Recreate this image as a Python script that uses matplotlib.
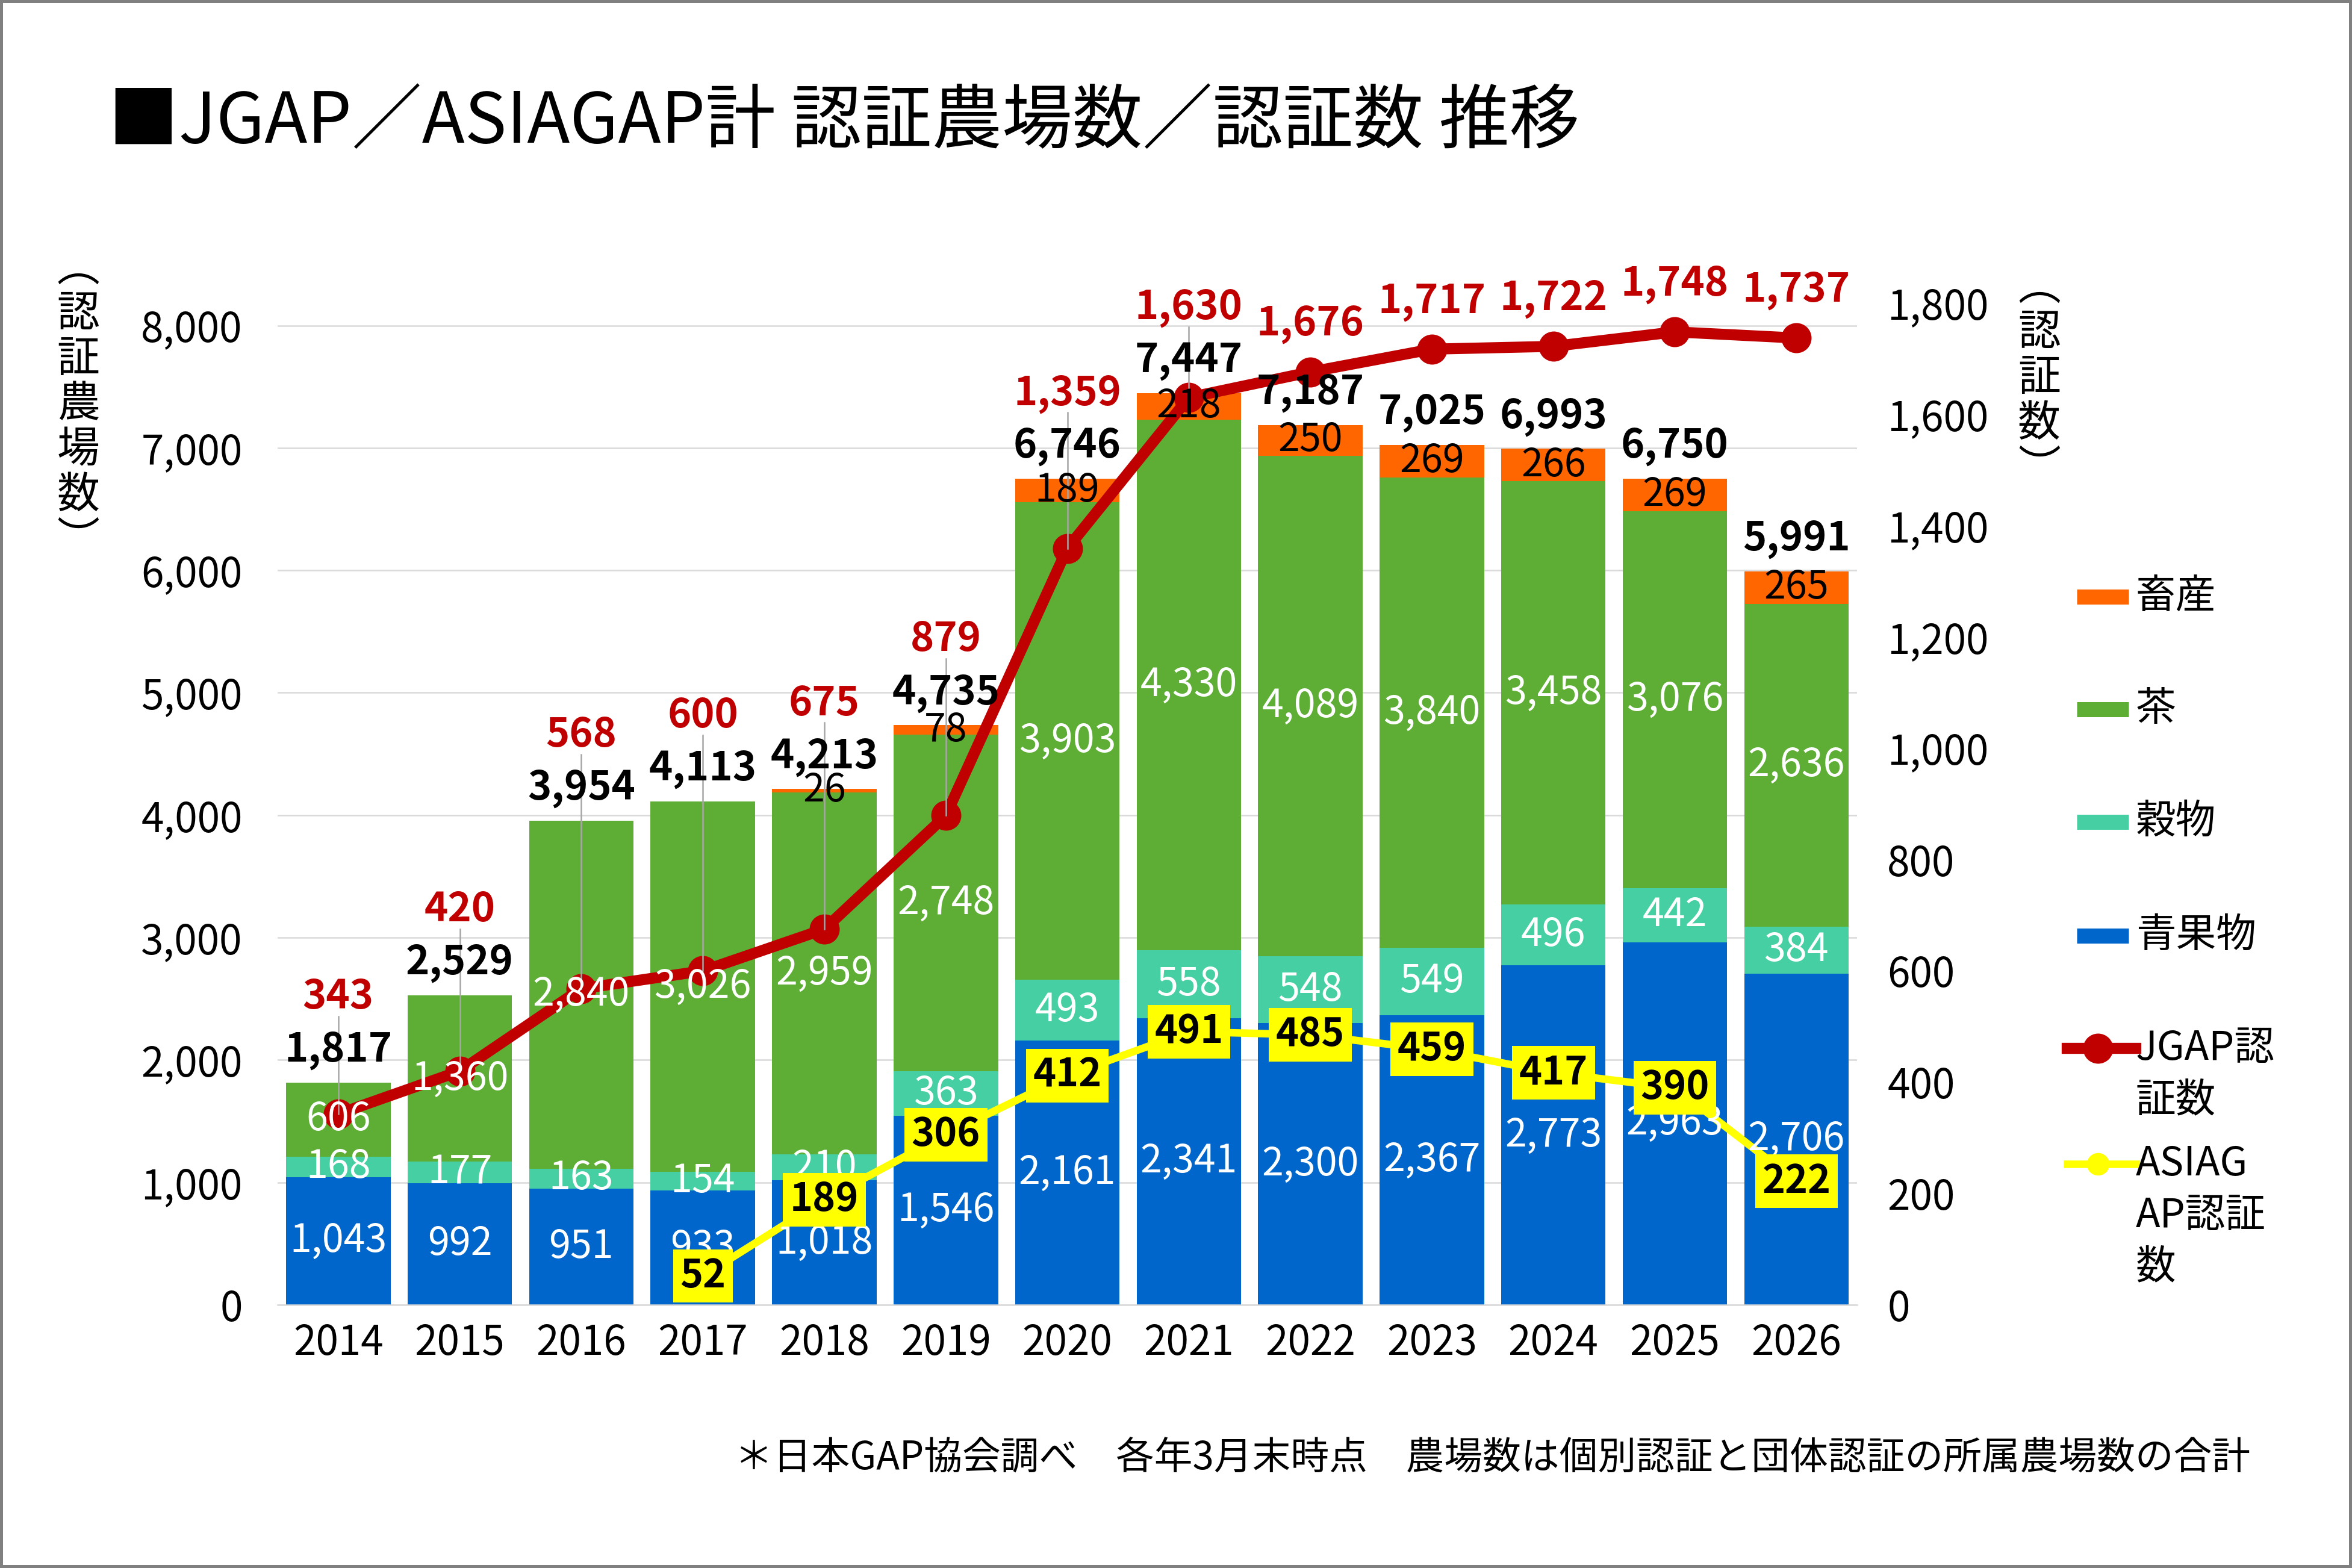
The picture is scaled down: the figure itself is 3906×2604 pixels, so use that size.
import numpy as np
import matplotlib
matplotlib.use("Agg")
import matplotlib.pyplot as plt
from matplotlib.lines import Line2D
from matplotlib.patches import Rectangle

plt.rcParams['font.family'] = ['Noto Sans CJK JP', 'DejaVu Sans']

# ---- data ----
years = ["2014", "2015", "2016", "2017", "2018", "2019", "2020",
         "2021", "2022", "2023", "2024", "2025", "2026"]
seika = [1043, 992, 951, 933, 1018, 1546, 2161, 2341, 2300, 2367, 2773, 2963, 2706]
kokumotsu = [168, 177, 163, 154, 210, 363, 493, 558, 548, 549, 496, 442, 384]
cha = [606, 1360, 2840, 3026, 2959, 2748, 3903, 4330, 4089, 3840, 3458, 3076, 2636]
chikusan = [0, 0, 0, 0, 26, 78, 189, 218, 250, 269, 266, 269, 265]
jgap = [343, 420, 568, 600, 675, 879, 1359, 1630, 1676, 1717, 1722, 1748, 1737]
asiagap = [None, None, None, 52, 189, 306, 412, 491, 485, 459, 417, 390, 222]

bar_names = ["畜産", "茶", "穀物", "青果物"]
line_names = ["JGAP認\n証数", "ASIAG\nAP認証\n数"]

C_SEIKA = "#0066CC"
C_KOKU = "#45CFA3"
C_CHA = "#5EAD35"
C_CHIKU = "#FF6600"
C_JGAP = "#C00000"
C_ASIA = "#FFFF00"
C_GRID = "#D9D9D9"

LEFT_MAX = 8184
RIGHT_MAX = 1800
FS = 15.5

fig = plt.figure(figsize=(13.02, 8.68), dpi=300)
ax = fig.add_axes([0.118, 0.1678, 0.6716, 0.639])
ax2 = ax.twinx()

x = np.arange(len(years))
W = 0.86
bottoms = np.zeros(len(years))
series = [(seika, C_SEIKA, "white"), (kokumotsu, C_KOKU, "white"),
          (cha, C_CHA, "white"), (chikusan, C_CHIKU, "black")]
for vals, col, tcol in series:
    v = np.array(vals, dtype=float)
    ax.bar(x, v, W, bottom=bottoms, color=col, zorder=2)
    for xi, b, vi in zip(x, bottoms, v):
        if vi > 0:
            ax2.text(xi, b + vi / 2, f"{int(vi):,}", transform=ax.transData,
                     ha="center", va="center", color=tcol, fontsize=FS, zorder=7)
    bottoms += v
totals = bottoms

# bar totals
for xi, t in zip(x, totals):
    ax2.annotate(f"{int(t):,}", (xi, t), xycoords=ax.transData,
                 xytext=(0, 13), textcoords="offset points",
                 ha="center", va="center", fontsize=FS + 0.5,
                 fontweight="bold", color="black", zorder=7)

# lines
ax2.plot(x, jgap, color=C_JGAP, lw=4.4, marker="o", ms=11, zorder=4)
asia = np.array(asiagap, dtype=float)
ax2.plot(x, asia, color=C_ASIA, lw=3, marker="o", ms=7, zorder=5)

# JGAP labels: above point, or lifted over the bar total label
scale = RIGHT_MAX / LEFT_MAX
for xi, v, t in zip(x, jgap, totals):
    y_pt = v + 86
    y_bar = t * scale + 154
    ly = max(y_pt, y_bar)
    if ly - y_pt > 20:
        ax2.plot([xi, xi], [ly - 35, v], color="#A6A6A6", lw=0.6, zorder=6)
    ax2.text(xi, ly, f"{v:,}", ha="center", va="center", color=C_JGAP,
             fontsize=FS + 0.5, fontweight="bold", zorder=7)

# ASIAGAP labels on yellow boxes
for xi, v in zip(x, asiagap):
    if v is None:
        continue
    ax2.text(xi, v, f"{v:,}", ha="center", va="center", color="black",
             fontsize=FS, fontweight="bold", zorder=8,
             bbox=dict(boxstyle="square,pad=0.18", fc=C_ASIA, ec="none"))

# axes styling
ax.set_xlim(-0.5, len(years) - 0.5)
ax.set_ylim(0, LEFT_MAX)
ax2.set_ylim(0, RIGHT_MAX)
ax.set_yticks(np.arange(0, 8001, 1000))
ax.set_yticklabels([f"{int(t):,}" for t in np.arange(0, 8001, 1000)])
ax2.set_yticks(np.arange(0, 1801, 200))
ax2.set_yticklabels([f"{int(t):,}" for t in np.arange(0, 1801, 200)])
ax.set_xticks(x)
ax.set_xticklabels(years)
ax.yaxis.grid(True, color=C_GRID, lw=0.6)
ax.set_axisbelow(True)
ax.tick_params(axis="y", length=0, labelsize=FS + 0.7, pad=14)
ax.tick_params(axis="x", length=0, labelsize=FS + 0.7, pad=7)
ax2.tick_params(axis="y", length=0, labelsize=FS + 0.7, pad=12)
for s in ["top", "left", "right"]:
    ax.spines[s].set_visible(False)
ax.spines["bottom"].set_color(C_GRID)
ax.spines["bottom"].set_linewidth(0.6)
for s in ax2.spines.values():
    s.set_visible(False)

# titles
fig.text(0.046, 0.9216, "■JGAP／ASIAGAP計 認証農場数／認証数 推移",
         ha="left", va="center", fontsize=28)
fig.text(0.0333, 0.742, "︵\n認\n証\n農\n場\n数\n︶", ha="center", va="center",
         fontsize=17, linespacing=1.04)
fig.text(0.867, 0.759, "︵\n認\n証\n数\n︶", ha="center", va="center",
         fontsize=17, linespacing=1.04)

# legend (drawn by hand to follow the reference layout)
leg_x0, leg_x1, leg_tx = 0.883, 0.905, 0.908
bar_cols = [C_CHIKU, C_CHA, C_KOKU, C_SEIKA]
bar_ys = [0.6194, 0.5476, 0.4758, 0.4032]
for name, col, yy in zip(bar_names, bar_cols, bar_ys):
    fig.add_artist(Line2D([leg_x0, leg_x1], [yy, yy], color=col, lw=6,
                          solid_capstyle="butt", transform=fig.transFigure))
    fig.text(leg_tx, yy, name, ha="left", va="center", fontsize=FS + 0.5)
line_specs = [(C_JGAP, 4.4, 11, 0.3314), (C_ASIA, 3, 8, 0.2577)]
for name, (col, lw, ms, yy) in zip(line_names, line_specs):
    fig.add_artist(Line2D([leg_x0 - 0.004, leg_x1 + 0.003], [yy, yy], color=col, lw=lw,
                          transform=fig.transFigure))
    fig.add_artist(Line2D([(leg_x0 + leg_x1) / 2 - 0.002], [yy], color=col, marker="o",
                          ms=ms, transform=fig.transFigure))
    for i, part in enumerate(name.split("\n")):
        fig.text(leg_tx, yy - i * 0.0330, part, ha="left", va="center", fontsize=FS + 0.5)

fig.text(0.9567, 0.0703,
         "＊日本GAP協会調べ　各年3月末時点　農場数は個別認証と団体認証の所属農場数の合計",
         ha="right", va="center", fontsize=15.3)

fig.add_artist(Rectangle((0, 0), 1, 1, transform=fig.transFigure, fill=False,
                         ec="#808080", lw=2.4))

fig.savefig("out.png", dpi=300)
